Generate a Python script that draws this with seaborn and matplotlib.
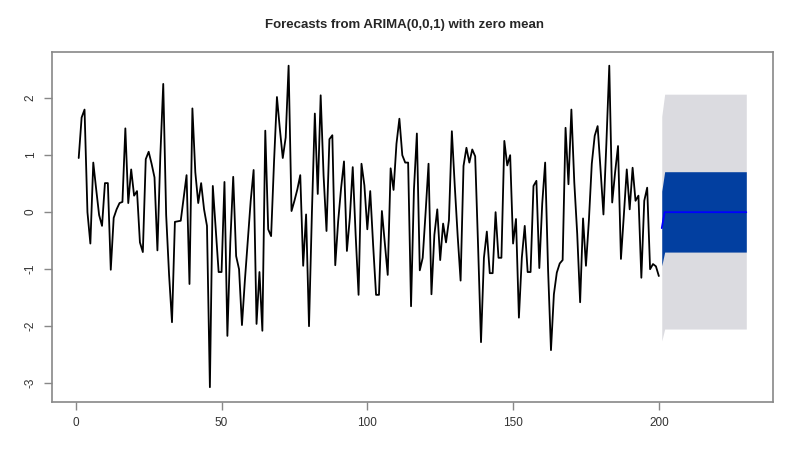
import numpy as np
import pandas as pd
import matplotlib
matplotlib.use("Agg")
import matplotlib.pyplot as plt
import seaborn as sns

serie = [
    0.95, 1.66, 1.80, 0.00, -0.55, 0.87, 0.40, -0.05, -0.24, 0.51,
    0.51, -1.01, -0.10, 0.05, 0.16, 0.18, 1.47, 0.16, 0.75, 0.29,
    0.37, -0.53, -0.70, 0.93, 1.06, 0.85, 0.61, -0.67, 0.99, 2.25,
    -0.05, -1.10, -1.93, -0.17, -0.16, -0.15, 0.25, 0.65, -1.26, 1.82,
    0.70, 0.16, 0.51, 0.05, -0.24, -3.07, 0.46, -0.30, -1.05, -1.05,
    0.53, -2.17, -0.53, 0.62, -0.77, -1.00, -1.98, -1.20, -0.50, 0.20,
    0.74, -1.96, -1.05, -2.08, 1.43, -0.30, -0.42, 0.88, 2.02, 1.46,
    0.95, 1.31, 2.57, 0.02, 0.20, 0.40, 0.65, -0.94, -0.04, -2.00,
    0.00, 1.73, 0.32, 2.05, 0.64, -0.33, 1.28, 1.35, -0.93, -0.16,
    0.42, 0.89, -0.68, -0.10, 0.79, -0.40, -1.45, 0.85, 0.47, -0.30,
    0.37, -0.58, -1.45, -1.45, 0.02, -0.54, -1.10, 0.77, 0.39, 1.20,
    1.64, 1.00, 0.87, 0.87, -1.65, 0.40, 1.38, -1.02, -0.80, 0.00,
    0.85, -1.44, -0.40, 0.05, -0.84, -0.20, -0.53, -0.14, 1.42, 0.46,
    -0.42, -1.20, 0.81, 1.13, 0.87, 1.10, 0.98, -0.60, -2.28, -0.80,
    -0.34, -1.07, -1.07, 0.00, -0.80, -0.80, 1.25, 0.82, 1.00, -0.55,
    -0.12, -1.85, -0.80, -0.24, -1.05, -1.05, 0.46, 0.55, -0.98, 0.15,
    0.87, -1.00, -2.42, -1.44, -1.06, -0.90, -0.84, 1.48, 0.49, 1.80,
    0.52, -0.38, -1.58, -0.11, -0.94, -0.15, 0.85, 1.34, 1.51, 0.75,
    -0.04, 1.20, 2.57, 0.17, 0.70, 1.16, -0.82, -0.05, 0.75, 0.05,
    0.78, 0.20, 0.29, -1.15, 0.20, 0.43, -1.00, -0.91, -0.95, -1.12,
]
tiempo = list(range(1, len(serie) + 1))

# pronostico a 30 pasos
h = 30
tiempo_fc = list(range(201, 201 + h))
media_fc = [-0.28] + [0.0] * (h - 1)
lo80 = [-0.94] + [-0.70] * (h - 1)
hi80 = [0.37] + [0.71] * (h - 1)
lo95 = [-2.26] + [-2.05] * (h - 1)
hi95 = [1.68] + [2.07] * (h - 1)

df = pd.DataFrame({"t": tiempo, "y": serie})
df_fc = pd.DataFrame({"t": tiempo_fc, "media": media_fc,
                      "lo80": lo80, "hi80": hi80, "lo95": lo95, "hi95": hi95})

sns.set_style("white")
plt.rcParams["font.family"] = ["Liberation Sans", "DejaVu Sans"]
plt.rcParams["axes.unicode_minus"] = False

fig = plt.figure(figsize=(8, 4.68), dpi=100)
ax = fig.add_axes([52 / 800, 1 - 402 / 468, 721 / 800, 350 / 468])

ax.fill_between(df_fc["t"], df_fc["lo95"], df_fc["hi95"], color="#dbdbe0", lw=0)
ax.fill_between(df_fc["t"], df_fc["lo80"], df_fc["hi80"], color="#023fa0", lw=0)
sns.lineplot(data=df, x="t", y="y", color="black", lw=1.3, ax=ax)
sns.lineplot(data=df_fc, x="t", y="media", color="#0000ff", lw=1.3, ax=ax)

ax.set_xlim(-8.16, 239.16)
ax.set_ylim(-3.33, 2.81)
ax.set_xticks([0, 50, 100, 150, 200])
ax.set_yticks([-3, -2, -1, 0, 1, 2])
ax.set_xlabel("")
ax.set_ylabel("")
for s in ax.spines.values():
    s.set_color("#888888")
    s.set_linewidth(1.2)
ax.tick_params(axis="both", which="major", bottom=True, left=True,
               direction="out", length=6, width=1, color="#888888",
               labelsize=8.5, labelcolor="#333333", pad=5)
plt.setp(ax.get_yticklabels(), rotation=90, va="center")

fig.text(0.506, 1 - 25 / 468, "Forecasts from ARIMA(0,0,1) with zero mean",
         ha="center", va="center", fontsize=9.5, fontweight="bold")

fig.savefig("out.png", dpi=100)
